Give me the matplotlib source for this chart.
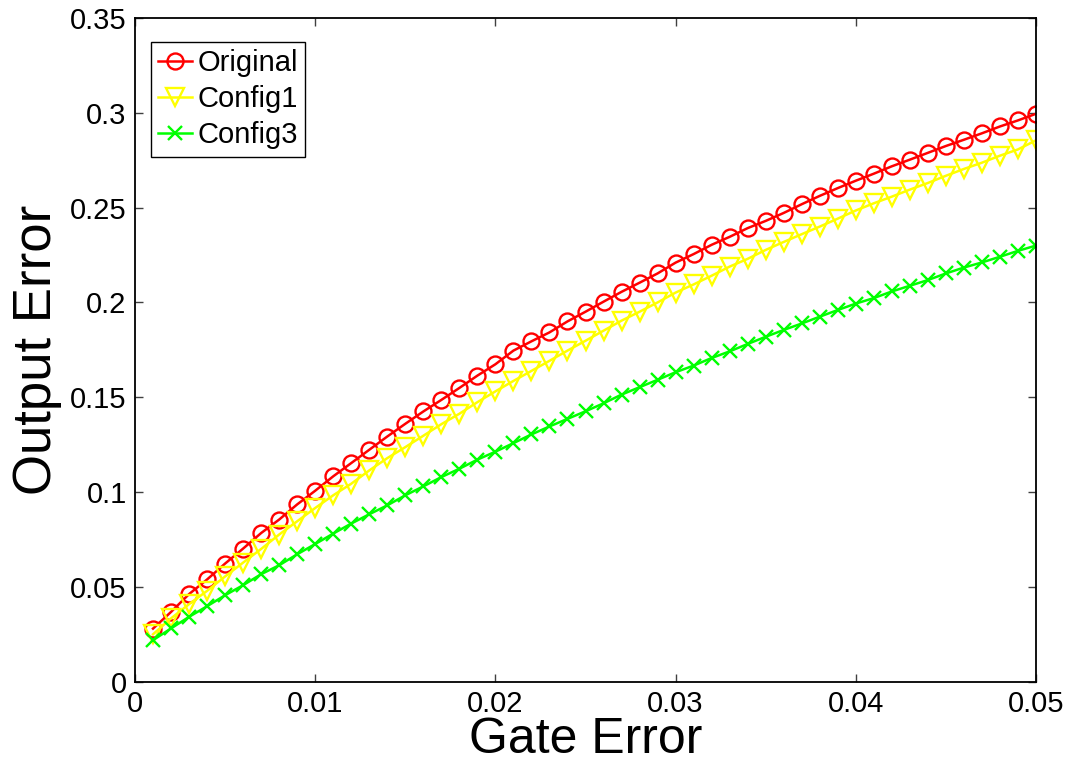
import matplotlib

matplotlib.use("Agg")
import matplotlib.pyplot as plt
import numpy as np

plt.rcParams["font.family"] = ["Liberation Sans", "DejaVu Sans"]

# gate error values (x)
gate_error = [i / 1000 for i in range(1, 51)]

# output error
original = [
    0.0280, 0.0368, 0.0462, 0.0539, 0.0623, 0.0702, 0.0784, 0.0855, 0.0935, 0.1007,
    0.1083, 0.1153, 0.1223, 0.1293, 0.1360, 0.1425, 0.1486, 0.1549, 0.1614, 0.1674,
    0.1746, 0.1795, 0.1842, 0.1900, 0.1951, 0.2004, 0.2056, 0.2104, 0.2153, 0.2210,
    0.2255, 0.2304, 0.2346, 0.2392, 0.2430, 0.2472, 0.2518, 0.2562, 0.2603, 0.2642,
    0.2679, 0.2718, 0.2753, 0.2789, 0.2825, 0.2858, 0.2892, 0.2928, 0.2960, 0.2995,
]
config1 = [
    0.0250, 0.0334, 0.0409, 0.0479, 0.0555, 0.0628, 0.0700, 0.0776, 0.0846, 0.0916,
    0.0983, 0.1044, 0.1114, 0.1179, 0.1237, 0.1297, 0.1358, 0.1413, 0.1474, 0.1531,
    0.1586, 0.1639, 0.1692, 0.1746, 0.1798, 0.1851, 0.1904, 0.1951, 0.2000, 0.2052,
    0.2095, 0.2141, 0.2189, 0.2230, 0.2277, 0.2319, 0.2360, 0.2400, 0.2442, 0.2485,
    0.2523, 0.2558, 0.2595, 0.2630, 0.2668, 0.2704, 0.2737, 0.2774, 0.2807, 0.2855,
]
config3 = [
    0.0219, 0.0281, 0.0342, 0.0398, 0.0456, 0.0509, 0.0567, 0.0614, 0.0672, 0.0726,
    0.0781, 0.0834, 0.0883, 0.0930, 0.0983, 0.1030, 0.1079, 0.1123, 0.1171, 0.1213,
    0.1258, 0.1304, 0.1346, 0.1386, 0.1426, 0.1468, 0.1514, 0.1553, 0.1592, 0.1632,
    0.1667, 0.1707, 0.1742, 0.1781, 0.1819, 0.1855, 0.1889, 0.1925, 0.1960, 0.1994,
    0.2023, 0.2058, 0.2088, 0.2118, 0.2153, 0.2184, 0.2211, 0.2241, 0.2272, 0.2300,
]

xticks = [0, 0.01, 0.02, 0.03, 0.04, 0.05]
xticklabels = ["0", "0.01", "0.02", "0.03", "0.04", "0.05"]
yticks = [0, 0.05, 0.1, 0.15, 0.2, 0.25, 0.3, 0.35]
yticklabels = ["0", "0.05", "0.1", "0.15", "0.2", "0.25", "0.3", "0.35"]

fig = plt.figure(figsize=(10.73, 7.64), dpi=100)
ax = fig.add_axes([135 / 1073, 1 - 681.7 / 764, 901 / 1073, 663.7 / 764])

ax.plot(gate_error, original, color="#ff0000", lw=1.8, marker="o", ms=11.5,
        mfc="none", mew=1.7, label="Original")
ax.plot(gate_error, config1, color="#ffff00", lw=1.8, marker="v", ms=12.5,
        mfc="none", mew=1.7, label="Config1")
ax.plot(gate_error, config3, color="#00ff00", lw=1.8, marker="x", ms=9.5,
        mew=1.7, label="Config3")

ax.set_xlim(0, 0.05)
ax.set_ylim(0, 0.35)
ax.set_xticks(xticks)
ax.set_xticklabels(xticklabels)
ax.set_yticks(yticks)
ax.set_yticklabels(yticklabels)
ax.tick_params(direction="in", length=6, width=1, top=True, right=True,
               labelsize=21, color="#404040", pad=6)
ax.tick_params(axis="x", pad=6)
for s in ax.spines.values():
    s.set_linewidth(1.3)

ax.set_xlabel("Gate Error", fontsize=36, labelpad=-1)
ax.set_ylabel("Output Error", fontsize=38, labelpad=6)

leg = ax.legend(loc="upper left", bbox_to_anchor=(0.0178, 0.9643),
                borderaxespad=0, fontsize=21, fancybox=False, framealpha=1,
                edgecolor="black", handlelength=1.15, handletextpad=0.2,
                borderpad=0.25, labelspacing=0.28)
leg.get_frame().set_linewidth(1.0)

fig.savefig("out.png", dpi=100)
